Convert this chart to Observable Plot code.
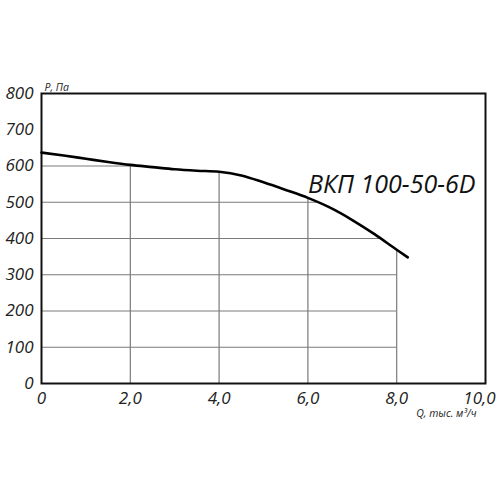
<!DOCTYPE html>
<html>
<head>
<meta charset="utf-8">
<script src="https://cdn.jsdelivr.net/npm/d3@7"></script>
<script src="https://cdn.jsdelivr.net/npm/@observablehq/plot@0.6"></script>
<style>
  html, body { margin: 0; padding: 0; background: #fff; }
  #chart { width: 500px; height: 500px; }
</style>
</head>
<body>
<div id="chart"></div>
<script>
// Fan curve data (Q, thousand m³/h  vs  P, Pa)
const flow = [0, 0.5, 1, 1.5, 2, 2.5, 3, 3.5, 4, 4.5, 5, 5.5, 6, 6.5, 7, 7.5, 8, 8.25];
const pressure = [637, 629, 620, 611, 603, 597, 591, 587, 584, 574, 555, 534, 512, 485, 451, 412, 369, 348];

const xTicks = [0, 2, 4, 6, 8, 10];
const xTickLabels = ["0", "2,0", "4,0", "6,0", "8,0", "10,0"];
const yTicks = [0, 100, 200, 300, 400, 500, 600, 700, 800];
const yTickLabels = ["0", "100", "200", "300", "400", "500", "600", "700", "800"];

const xGrid = [2, 4, 6, 8];
const yGrid = [100, 200, 300, 400, 500, 600];
const gridLimit = 8;

const title = "ВКП 100-50-6D";
const yLabel = "P, Па";
const xLabel = "Q, тыс. м³/ч";

const curveData = flow.map((q, i) => ({q, p: pressure[i]}));

// pressure at a given flow (linear interpolation of data)
function pAt(q) {
  for (let i = 0; i < flow.length - 1; i++) {
    if (q >= flow[i] && q <= flow[i + 1]) {
      const t = (q - flow[i]) / (flow[i + 1] - flow[i]);
      return pressure[i] + t * (pressure[i + 1] - pressure[i]);
    }
  }
  return pressure[pressure.length - 1];
}
// flow at which the curve reaches a given pressure
function qAt(p) {
  for (let i = 0; i < pressure.length - 1; i++) {
    if (p <= pressure[i] && p >= pressure[i + 1]) {
      const t = (pressure[i] - p) / (pressure[i] - pressure[i + 1]);
      return flow[i] + t * (flow[i + 1] - flow[i]);
    }
  }
  return gridLimit;
}

const hGrid = yGrid.map(p => ({p, x2: Math.min(gridLimit, qAt(p))}));
const vGrid = xGrid.map(q => ({q, y2: pAt(q)}));

const font = "'Open Sans', 'DejaVu Sans', sans-serif";
const xTicksMain = xTicks.slice(0, -1);
const xTicksLast = xTicks.slice(-1);
const xFmt = d => xTickLabels[xTicks.indexOf(d)];

const chart = Plot.plot({
  width: 500,
  height: 500,
  marginLeft: 41,
  marginRight: 15,
  marginTop: 93,
  marginBottom: 117,
  style: {fontFamily: font, background: "#fff", color: "#222"},
  x: {domain: [0, 10]},
  y: {domain: [0, 800]},
  marks: [
    Plot.ruleY(hGrid, {y: "p", x1: 0, x2: "x2", stroke: "#7a7a7a", strokeWidth: 1.2}),
    Plot.ruleX(vGrid, {x: "q", y1: 0, y2: "y2", stroke: "#7a7a7a", strokeWidth: 1.2}),
    Plot.frame({stroke: "#111", strokeWidth: 2}),
    Plot.line(curveData, {x: "q", y: "p", stroke: "#000", strokeWidth: 2.6, curve: "monotone-x"}),
    Plot.axisY({
      ticks: yTicks, tickSize: 0, tickPadding: 8,
      tickFormat: d => yTickLabels[yTicks.indexOf(d)],
      fontSize: 17, fontStyle: "italic", label: null, fill: "#222"
    }),
    Plot.axisX({
      ticks: xTicksMain, tickSize: 0, tickPadding: 8,
      tickFormat: xFmt,
      fontSize: 17, fontStyle: "italic", label: null, fill: "#222"
    }),
    Plot.axisX({
      ticks: xTicksLast, tickSize: 0, tickPadding: 8, dx: -6,
      tickFormat: xFmt,
      fontSize: 17, fontStyle: "italic", label: null, fill: "#222"
    }),
    Plot.text([yLabel], {frameAnchor: "top-left", dx: 3, dy: -10, text: d => d, fontSize: 10.5, fontStyle: "italic", textAnchor: "start", fill: "#222"}),
    Plot.text([xLabel], {frameAnchor: "bottom-right", dx: -9, dy: 33, text: d => d, fontSize: 10.5, fontStyle: "italic", textAnchor: "end", fill: "#222"}),
    Plot.text([title], {frameAnchor: "top-right", dx: -10, dy: 82, text: d => d, fontSize: 25, fontStyle: "italic", textAnchor: "end", fill: "#111"})
  ]
});

document.getElementById("chart").appendChild(chart);
</script>
</body>
</html>
